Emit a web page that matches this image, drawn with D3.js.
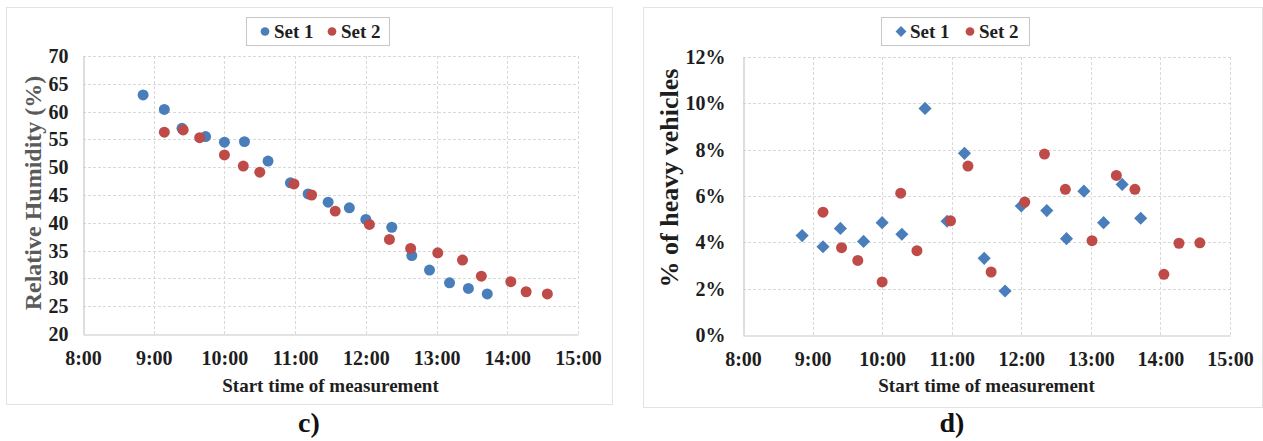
<!DOCTYPE html>
<html>
<head>
<meta charset="utf-8">
<script src="https://cdn.jsdelivr.net/npm/d3@7"></script>
<style>
  body { margin: 0; background: #fff; }
  svg { display: block; font-family: "Liberation Serif", "Times New Roman", serif; font-weight: bold; }
</style>
</head>
<body>
<svg id="chart" width="1263" height="441"></svg>
<script>
// times of the two measurement sets
const set1Times = ['8:51', '9:09', '9:24', '9:44', '10:00', '10:17', '10:37', '10:56', '11:11',
    '11:28', '11:46', '12:00', '12:22', '12:39', '12:54', '13:11', '13:27', '13:43'];
const set2Times = ['9:09', '9:25', '9:39', '10:00', '10:16', '10:30', '10:59', '11:14', '11:34',
    '12:03', '12:20', '12:38', '13:01', '13:22', '13:38', '14:03', '14:16', '14:34'];

// c) relative humidity (%)
const humiditySet1 = [63.0, 60.4, 57.0, 55.5, 54.5, 54.6, 51.1, 47.2, 45.2,
    43.7, 42.7, 40.6, 39.2, 34.1, 31.5, 29.2, 28.2, 27.2];
const humiditySet2 = [56.3, 56.7, 55.3, 52.2, 50.2, 49.1, 47.0, 45.0, 42.1,
    39.7, 37.0, 35.4, 34.6, 33.3, 30.4, 29.4, 27.6, 27.2];

// d) share of heavy vehicles (%)
const heavySet1 = [4.29, 3.81, 4.60, 4.04, 4.85, 4.35, 9.78, 4.91, 7.84,
    3.31, 1.90, 5.57, 5.37, 4.16, 6.21, 4.85, 6.50, 5.04];
const heavySet2 = [5.30, 3.77, 3.22, 2.29, 6.12, 3.64, 4.93, 7.29, 2.72,
    5.74, 7.81, 6.29, 4.07, 6.89, 6.29, 2.62, 3.96, 3.98];

const xTicks = ['8:00', '9:00', '10:00', '11:00', '12:00', '13:00', '14:00', '15:00'];
const humidityTicks = [20, 25, 30, 35, 40, 45, 50, 55, 60, 65, 70];
const heavyTicks = [0, 2, 4, 6, 8, 10, 12];

const blue = '#4a7ebb';
const red = '#be4b48';
const gridColor = '#d9d9d9';
const serif = '"Liberation Serif", "Times New Roman", serif';

const toMin = t => {
    const [h, m] = t.split(':').map(Number);
    return h * 60 + m;
};

const svg = d3.select('#chart');

const panel = opts => {
    const g = svg.append('g');

    // outer frame of the panel
    g.append('rect')
        .attr('x', opts.frame[0] + 0.5).attr('y', opts.frame[1] + 0.5)
        .attr('width', opts.frame[2]).attr('height', opts.frame[3])
        .attr('fill', '#fff').attr('stroke', '#e3e3e3');

    const x = d3.scaleLinear()
        .domain([toMin(xTicks[0]), toMin(xTicks[xTicks.length - 1])])
        .range([opts.left, opts.right]);
    const y = d3.scaleLinear()
        .domain([opts.yTicks[0], opts.yTicks[opts.yTicks.length - 1]])
        .range([opts.bottom, opts.top]);

    // dashed grid
    g.append('g').selectAll('line')
        .data(opts.yTicks.slice(1))
        .join('line')
        .attr('x1', opts.left).attr('x2', opts.right)
        .attr('y1', d => Math.round(y(d)) + 0.5).attr('y2', d => Math.round(y(d)) + 0.5)
        .attr('stroke', gridColor).attr('stroke-dasharray', '3,2');
    g.append('g').selectAll('line')
        .data(xTicks.slice(1))
        .join('line')
        .attr('x1', d => Math.round(x(toMin(d))) + 0.5).attr('x2', d => Math.round(x(toMin(d))) + 0.5)
        .attr('y1', opts.top).attr('y2', opts.bottom)
        .attr('stroke', gridColor).attr('stroke-dasharray', '3,2');

    // axes
    const xAxis = d3.axisBottom(x)
        .tickValues(xTicks.map(toMin))
        .tickFormat(d => `${Math.floor(d / 60)}:${String(d % 60).padStart(2, '0')}`)
        .tickSize(0).tickPadding(16);
    const yAxis = d3.axisLeft(y)
        .tickValues(opts.yTicks)
        .tickFormat(opts.yFormat)
        .tickSize(0).tickPadding(opts.yPad);

    const gx = g.append('g')
        .attr('transform', `translate(0,${opts.bottom + 0.5})`)
        .call(xAxis);
    const gy = g.append('g')
        .attr('transform', `translate(${opts.left + 0.5},0)`)
        .call(yAxis);
    [gx, gy].forEach(a => {
        a.attr('font-family', serif).attr('font-size', 20).attr('font-weight', 'bold');
        a.select('.domain').attr('stroke', '#c8c8c8').attr('stroke-width', 1.2);
        a.selectAll('text').attr('fill', '#1e1e1e')
            .style('font-family', serif).style('font-weight', 'bold').style('font-size', '20px');
    });

    // axis titles
    g.append('text')
        .attr('x', (opts.left + opts.right) / 2).attr('y', 392)
        .attr('text-anchor', 'middle').attr('font-size', 19).attr('fill', '#1e1e1e')
        .text('Start time of measurement');
    g.append('text')
        .attr('transform', `translate(${opts.yTitleX},${opts.yTitleY}) rotate(-90)`)
        .attr('text-anchor', 'middle').attr('font-size', opts.yTitleSize).attr('fill', opts.yTitleColor)
        .text(opts.yTitle);

    // panel label
    g.append('text')
        .attr('x', opts.labelX).attr('y', 432)
        .attr('text-anchor', 'middle').attr('font-size', 28).attr('fill', '#111')
        .text(opts.label);

    const drawMarkers = (times, values, color, shape) => {
        const sym = d3.symbol().type(shape === 'diamond' ? d3.symbolDiamond2 : d3.symbolCircle)
            .size(shape === 'diamond' ? 110 : 95);
        g.append('g').selectAll('path')
            .data(times.map((t, i) => [toMin(t), values[i]]))
            .join('path')
            .attr('transform', d => `translate(${x(d[0])},${y(d[1])})`)
            .attr('d', sym)
            .attr('fill', color);
    };
    drawMarkers(set1Times, opts.set1, blue, opts.shape1);
    drawMarkers(set2Times, opts.set2, red, 'circle');

    // legend
    const lg = g.append('g').attr('transform', `translate(${opts.legend[0]},${opts.legend[1]})`);
    lg.append('rect')
        .attr('x', 0.5).attr('y', 0.5).attr('width', opts.legend[2]).attr('height', 28)
        .attr('fill', '#fff').attr('stroke', '#c8c8c8');
    const items = [
        { name: 'Set 1', color: blue, shape: opts.shape1, mx: opts.legendMarks[0] },
        { name: 'Set 2', color: red, shape: 'circle', mx: opts.legendMarks[1] }
    ];
    items.forEach(it => {
        lg.append('path')
            .attr('transform', `translate(${it.mx},14.5)`)
            .attr('d', d3.symbol().type(it.shape === 'diamond' ? d3.symbolDiamond2 : d3.symbolCircle)
                .size(it.shape === 'diamond' ? 75 : 60))
            .attr('fill', it.color);
        lg.append('text')
            .attr('x', it.mx + 9).attr('y', 21)
            .attr('font-size', 19).attr('fill', '#1e1e1e')
            .text(it.name);
    });
};

panel({
    frame: [6, 7, 606, 397],
    left: 83, right: 578, top: 56, bottom: 334,
    yTicks: humidityTicks, yFormat: d => d, yPad: 15,
    yTitle: 'Relative Humidity (%)', yTitleX: 41, yTitleY: 193, yTitleSize: 24,
    yTitleColor: '#5a5a5a',
    set1: humiditySet1, set2: humiditySet2, shape1: 'circle',
    legend: [246, 17, 143], legendMarks: [19, 86],
    label: 'c)', labelX: 309
});

panel({
    frame: [643, 7, 619, 400],
    left: 743, right: 1230, top: 57, bottom: 335,
    yTicks: heavyTicks, yFormat: d => d + '%', yPad: 18,
    yTitle: '% of heavy vehicles', yTitleX: 678, yTitleY: 178, yTitleSize: 26,
    yTitleColor: '#1e1e1e',
    set1: heavySet1, set2: heavySet2, shape1: 'diamond',
    legend: [881, 17, 148], legendMarks: [20, 89],
    label: 'd)', labelX: 952
});
</script>
</body>
</html>
